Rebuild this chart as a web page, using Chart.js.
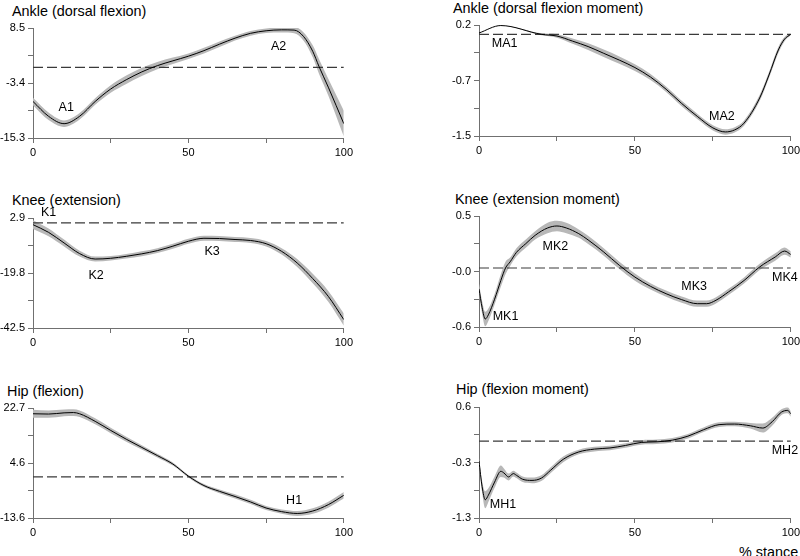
<!DOCTYPE html>
<html lang="en">
<head>
<meta charset="UTF-8">
<title>Stance phase: joint angles and moments</title>
<script src="https://cdn.jsdelivr.net/npm/chart.js"></script>
<style>
  body { margin: 0; background: #fff; font-family: "Liberation Sans", Arial, Helvetica, sans-serif; }
  .page { position: relative; width: 800px; height: 556px; overflow: hidden; }
  .title { position: absolute; font-size: 14.4px; line-height: 16px; color: #000; white-space: nowrap; }
  canvas { position: absolute; }
</style>
</head>
<body>
<div class="page">
  <div class="title" style="left:12px; top:3px">Ankle (dorsal flexion)</div>
  <div class="title" style="left:453px; top:0px">Ankle (dorsal flexion moment)</div>
  <div class="title" style="left:12px; top:192px">Knee (extension)</div>
  <div class="title" style="left:455px; top:191px">Knee (extension moment)</div>
  <div class="title" style="left:7px; top:383px">Hip (flexion)</div>
  <div class="title" style="left:456px; top:381px">Hip (flexion moment)</div>
  <div class="title" style="left:739px; top:544px">% stance</div>
  <canvas id="ankleAngle"></canvas>
  <canvas id="ankleMoment"></canvas>
  <canvas id="kneeAngle"></canvas>
  <canvas id="kneeMoment"></canvas>
  <canvas id="hipAngle"></canvas>
  <canvas id="hipMoment"></canvas>
</div>

<script>
// ---- data (% stance on x) ----
const ankleAngleX    = [0, 5, 10, 15, 20, 25, 30, 35, 40, 45, 50, 55, 60, 65, 70, 75, 80, 84, 87, 90, 92, 95, 100];
const ankleAngleMean = [-7.4, -10.6, -12.2, -10.6, -7.4, -4.7, -2.7, -1.0, 0.35, 1.4, 2.4, 3.6, 5.0, 6.3, 7.35, 7.9, 8.1, 8.05, 6.7, 3.45, 0.2, -4.3, -12.2];
const ankleAngleSd   = [0.8, 0.8, 0.7, 0.7, 0.7, 0.8, 0.9, 0.9, 0.8, 0.7, 0.6, 0.6, 0.6, 0.5, 0.5, 0.5, 0.6, 0.7, 0.9, 1.3, 1.6, 1.8, 2.8];
const ankleAngleTicks = ['8.5', '-3.4', '-15.3'];
const ankleAngleNotes = [['A1', 10.7, -8.8], ['A2', 79, 4.5]];

const ankleMomentX    = [0, 7, 20, 25, 30, 35, 40, 45, 50, 55, 60, 65, 70, 75, 79, 82, 85, 90, 93, 96, 98, 100];
const ankleMomentMean = [0.02, 0.13, 0.0, -0.025, -0.1, -0.18, -0.28, -0.38, -0.49, -0.63, -0.81, -1.02, -1.21, -1.38, -1.44, -1.41, -1.31, -0.94, -0.6, -0.23, -0.07, 0.0];
const ankleMomentSd   = [0, 0, 0.015, 0.025, 0.04, 0.05, 0.055, 0.055, 0.05, 0.045, 0.04, 0.04, 0.04, 0.04, 0.04, 0.04, 0.04, 0.045, 0.045, 0.045, 0.03, 0.015];
const ankleMomentTicks = ['0.2', '-0.7', '-1.5'];
const ankleMomentNotes = [['MA1', 8.2, -0.133], ['MA2', 77.9, -1.215]];

const kneeAngleX    = [0, 5, 10, 15, 20, 25, 30, 35, 40, 45, 50, 55, 60, 65, 70, 75, 80, 85, 90, 95, 100];
const kneeAngleMean = [-0.7, -3.8, -8.1, -12.4, -14.6, -14.3, -13.5, -12.5, -11.2, -9.4, -7.4, -6.2, -6.3, -6.7, -7.1, -8.4, -11.5, -16.2, -22.5, -29.7, -39.1];
const kneeAngleSd   = [1.8, 1.6, 1.4, 1.2, 1.0, 0.9, 0.9, 1.0, 1.0, 1.0, 1.0, 1.0, 1.0, 1.0, 1.0, 1.1, 1.3, 1.6, 1.9, 2.2, 2.5];
const kneeAngleTicks = ['2.9', '-19.8', '-42.5'];
const kneeAngleNotes = [['K1', 5, 4.05], ['K2', 20.3, -21.3], ['K3', 57.6, -11.5]];

const kneeMomentX    = [0, 1, 2, 3, 5, 7, 8.5, 10, 12, 15, 18, 22, 25, 28, 32, 35, 40, 45, 50, 55, 60, 65, 70, 73, 76, 80, 85, 90, 95, 98, 100];
const kneeMomentMean = [-0.2, -0.38, -0.49, -0.45, -0.3, -0.12, 0.0, 0.06, 0.15, 0.234, 0.314, 0.385, 0.404, 0.385, 0.33, 0.27, 0.154, 0.026, -0.087, -0.176, -0.247, -0.304, -0.343, -0.343, -0.31, -0.23, -0.12, 0.01, 0.106, 0.163, 0.13];
const kneeMomentSd   = [0.05, 0.06, 0.07, 0.06, 0.05, 0.06, 0.06, 0.04, 0.04, 0.04, 0.04, 0.05, 0.05, 0.05, 0.04, 0.04, 0.035, 0.035, 0.035, 0.03, 0.03, 0.03, 0.03, 0.03, 0.03, 0.03, 0.03, 0.03, 0.035, 0.035, 0.03];
const kneeMomentTicks = ['0.5', '-0.0', '-0.6'];
const kneeMomentNotes = [['MK1', 8.5, -0.471], ['MK2', 24.5, 0.202], ['MK3', 69, -0.176], ['MK4', 98.1, -0.087]];

const hipAngleX    = [0, 5, 10, 13, 15, 20, 25, 30, 35, 40, 45, 50, 55, 60, 65, 70, 75, 80, 85, 90, 95, 100];
const hipAngleMean = [20.8, 20.7, 21.1, 21.2, 20.8, 18.3, 15.3, 12.4, 9.7, 7.0, 4.2, 0.2, -2.9, -4.8, -6.5, -8.3, -10.3, -11.5, -12.1, -11.3, -9.2, -6.1];
const hipAngleSd   = [1.3, 1.2, 1.1, 1.1, 1.1, 1.0, 0.9, 0.8, 0.7, 0.6, 0.5, 0.4, 0.5, 0.6, 0.7, 0.7, 0.7, 0.7, 0.8, 0.9, 1.0, 1.1];
const hipAngleTicks = ['22.7', '4.6', '-13.6'];
const hipAngleNotes = [['H1', 84, -8.0]];

const hipMomentX    = [0, 1, 2, 3, 5, 7, 8, 9.5, 11, 12, 14, 17, 20, 23, 27, 32, 37, 42, 47, 52, 57, 62, 67, 72, 77, 82, 87, 91, 94, 97, 99, 100];
const hipMomentMean = [-0.35, -0.8, -1.03, -0.95, -0.72, -0.53, -0.56, -0.63, -0.57, -0.6, -0.67, -0.69, -0.65, -0.51, -0.32, -0.19, -0.14, -0.12, -0.076, -0.023, -0.012, 0.017, 0.087, 0.2, 0.29, 0.3, 0.27, 0.23, 0.34, 0.51, 0.54, 0.48];
const hipMomentSd   = [0.05, 0.1, 0.15, 0.12, 0.1, 0.1, 0.08, 0.06, 0.05, 0.05, 0.05, 0.05, 0.05, 0.05, 0.05, 0.04, 0.04, 0.04, 0.04, 0.04, 0.04, 0.04, 0.04, 0.04, 0.04, 0.04, 0.05, 0.08, 0.07, 0.05, 0.05, 0.05];
const hipMomentTicks = ['0.6', '-0.3', '-1.3'];
const hipMomentNotes = [['MH1', 7.7, -1.12], ['MH2', 98.1, -0.169]];

const xTicks = [0, 25, 50, 75, 100];

// ---- layout: plot box [left, top, width, height] and y range per panel ----
const panels = [
  { id: 'ankleAngle',  x: ankleAngleX,  mean: ankleAngleMean,  sd: ankleAngleSd,  ticks: ankleAngleTicks,  notes: ankleAngleNotes,  min: -15.3, max: 8.5,   box: [33, 28, 311, 110] },
  { id: 'ankleMoment', x: ankleMomentX, mean: ankleMomentMean, sd: ankleMomentSd, ticks: ankleMomentTicks, notes: ankleMomentNotes, min: -1.5,  max: 0.138, box: [479, 25, 312, 111] },
  { id: 'kneeAngle',   x: kneeAngleX,   mean: kneeAngleMean,   sd: kneeAngleSd,   ticks: kneeAngleTicks,   notes: kneeAngleNotes,   min: -42.5, max: 2.0,   box: [33, 218, 311, 110] },
  { id: 'kneeMoment',  x: kneeMomentX,  mean: kneeMomentMean,  sd: kneeMomentSd,  ticks: kneeMomentTicks,  notes: kneeMomentNotes,  min: -0.567, max: 0.5,  box: [479, 216, 312, 111] },
  { id: 'hipAngle',    x: hipAngleX,    mean: hipAngleMean,    sd: hipAngleSd,    ticks: hipAngleTicks,    notes: hipAngleNotes,    min: -13.6, max: 22.7,  box: [33, 408, 311, 110] },
  { id: 'hipMoment',   x: hipMomentX,   mean: hipMomentMean,   sd: hipMomentSd,   ticks: hipMomentTicks,   notes: hipMomentNotes,   min: -1.351, max: 0.6,  box: [479, 407, 312, 111] }
];

const FONT = '"Liberation Sans", Arial, Helvetica, sans-serif';
const AXIS = '#707070';
const BAND = '#b8b8b8';
const PAD = { top: 14, right: 12, left: 40, bottom: 30 };

Chart.defaults.font.family = FONT;
Chart.defaults.color = '#000';

// text labels (A1, MK2 ...) placed in data units
function notesPlugin(items) {
  return {
    id: 'notes',
    afterDatasetsDraw(chart) {
      const { ctx, scales: { x, y } } = chart;
      ctx.save();
      ctx.font = '12.5px ' + FONT;
      ctx.fillStyle = '#000';
      ctx.textAlign = 'center';
      ctx.textBaseline = 'middle';
      items.forEach(([txt, px, py]) => ctx.fillText(txt, x.getPixelForValue(px), y.getPixelForValue(py)));
      ctx.restore();
    }
  };
}

function pts(xs, ys) { return xs.map((x, i) => ({ x: x, y: ys[i] })); }

panels.forEach(p => {
  const [left, top, w, h] = p.box;
  const canvas = document.getElementById(p.id);
  canvas.width = w + PAD.left + PAD.right;
  canvas.height = h + PAD.top + PAD.bottom;
  canvas.style.left = (left - PAD.left) + 'px';
  canvas.style.top = (top - PAD.top) + 'px';

  const upper = p.mean.map((m, i) => m + p.sd[i]);
  const lower = p.mean.map((m, i) => m - p.sd[i]);

  new Chart(canvas, {
    type: 'line',
    data: {
      datasets: [
        { data: pts(p.x, p.mean), borderColor: '#000', borderWidth: 1, pointRadius: 0, cubicInterpolationMode: 'monotone', order: 0 },
        { data: [{ x: 0, y: 0 }, { x: 100, y: 0 }], borderColor: '#3a3a3a', borderWidth: 1.2, borderDash: [10, 4], pointRadius: 0, order: 1 },
        { data: pts(p.x, upper), borderWidth: 0, pointRadius: 0, cubicInterpolationMode: 'monotone', fill: false, order: 2 },
        { data: pts(p.x, lower), borderWidth: 0, pointRadius: 0, cubicInterpolationMode: 'monotone', fill: '-1', backgroundColor: BAND, order: 3 }
      ]
    },
    options: {
      responsive: false,
      animation: false,
      layout: { padding: { top: PAD.top, right: PAD.right, left: 0, bottom: 0 } },
      plugins: { legend: { display: false }, tooltip: { enabled: false } },
      scales: {
        x: {
          type: 'linear', min: 0, max: 100,
          afterBuildTicks: s => { s.ticks = xTicks.map(v => ({ value: v })); },
          afterFit: s => { s.height = PAD.bottom; },
          ticks: { autoSkip: false, maxRotation: 0, padding: 3, font: { size: 11 }, color: '#000',
                   callback: v => (v % 50 === 0 ? String(v) : '') },
          grid: { drawOnChartArea: false, tickLength: 5, color: AXIS },
          border: { color: AXIS }
        },
        y: {
          type: 'linear', min: p.min, max: p.max,
          afterBuildTicks: s => { s.ticks = [0, 1, 2, 3, 4].map(i => ({ value: p.min + i * (p.max - p.min) / 4 })); },
          afterFit: s => { s.width = PAD.left; },
          ticks: { autoSkip: false, padding: 3, font: { size: 11 }, color: '#000',
                   callback: (v, i) => (i % 2 === 0 ? p.ticks[2 - i / 2] : '') },
          grid: { drawOnChartArea: false, tickLength: 5, color: AXIS },
          border: { color: AXIS }
        }
      }
    },
    plugins: [notesPlugin(p.notes)]
  });
});
</script>
</body>
</html>
